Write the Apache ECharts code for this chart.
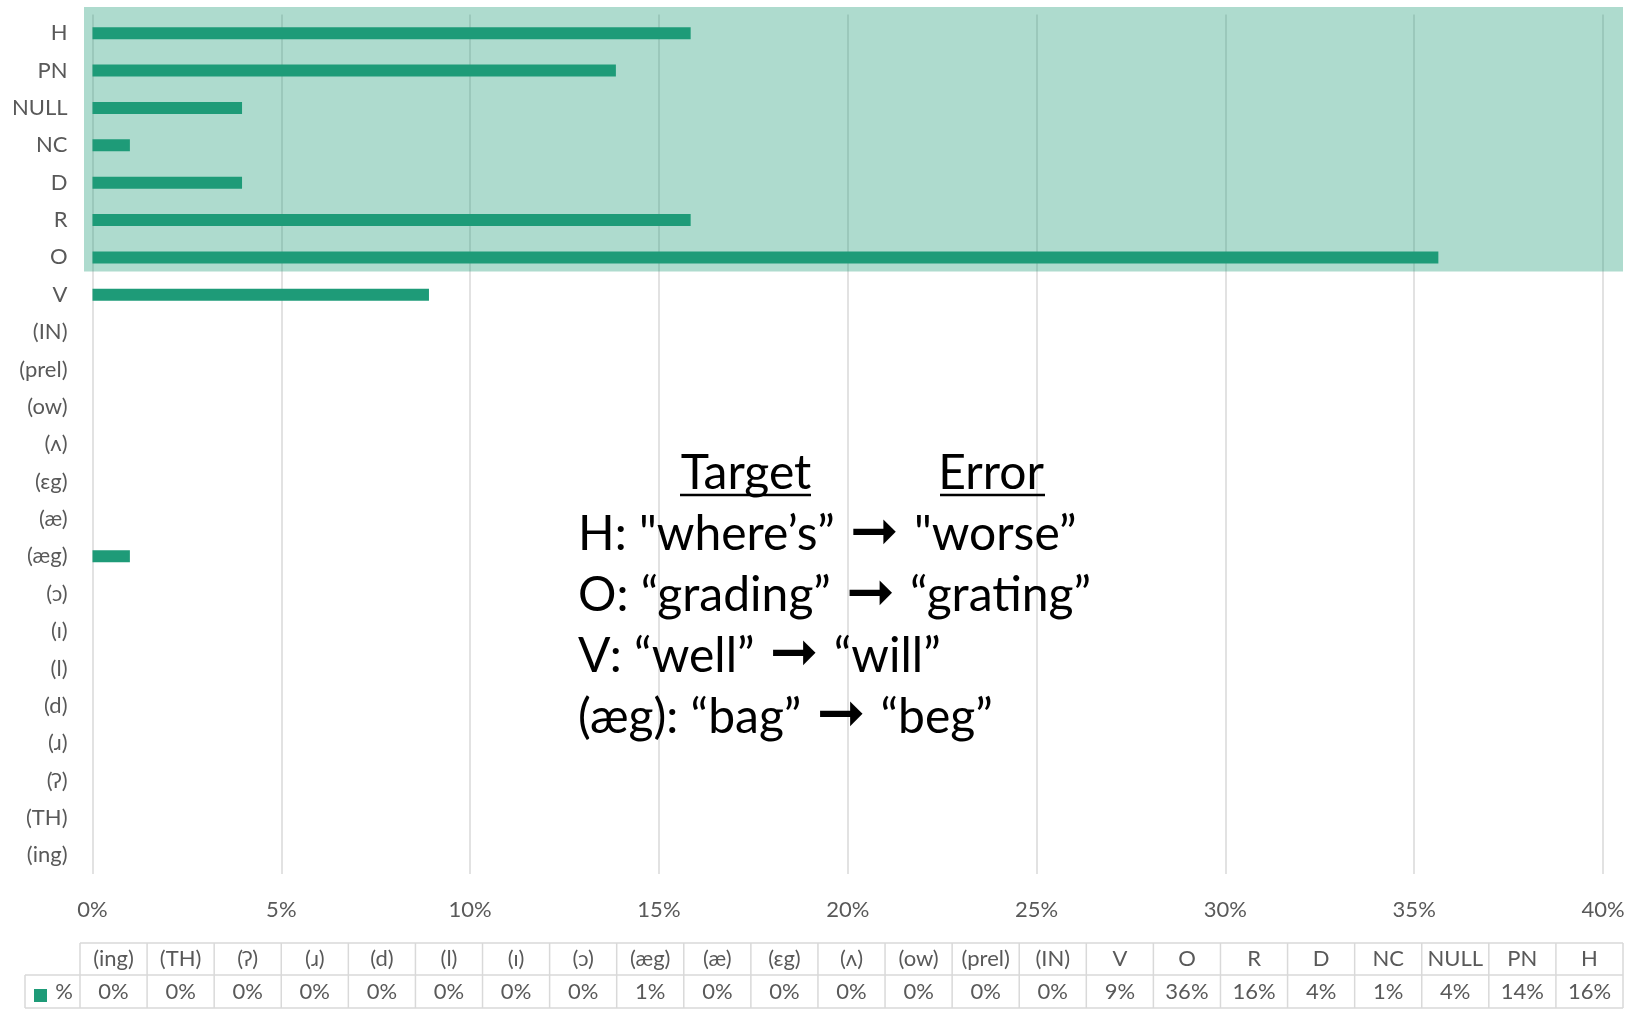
<!DOCTYPE html>
<html>
<head>
<meta charset="utf-8">
<script src="https://cdn.jsdelivr.net/npm/echarts@6/dist/echarts.min.js"></script>
<style>
  html, body { margin: 0; padding: 0; background: #ffffff; }
  #chart { width: 1629px; height: 1011px; }
</style>
</head>
<body>
<div id="chart"></div>
<script>
// Error categories, listed bottom to top as they appear on the axis
const categories = ['(ing)', '(TH)', '(ʔ)', '(ɹ)', '(d)', '(l)', '(ɪ)', '(ɔ)', '(æg)', '(æ)', '(ɛg)', '(ʌ)',
  '(ow)', '(prel)', '(IN)', 'V', 'O', 'R', 'D', 'NC', 'NULL', 'PN', 'H'];
// Share of errors per category
const shares = [0, 0, 0, 0, 0, 0, 0, 0, 0.0099, 0, 0, 0, 0, 0, 0, 0.0891, 0.3564, 0.1584, 0.0396, 0.0099, 0.0396, 0.1386, 0.1584];
const seriesName = '%';
// Value axis range
const axisMin = 0;
const axisMax = 0.40;
const axisStep = 0.05;
// Highlighted block of categories
const highlightFrom = 'O';
const highlightTo = 'H';
// Example note: target word and produced error
const noteHeads = ['Target', 'Error'];
const noteLabels = ['H', 'O', 'V', '(æg)'];
const noteTargets = ['"where’s”', '“grading”', '“well”', '“bag”'];
const noteErrors = ['"worse”', '“grating”', '“will”', '“beg”'];

const FONT = 'Lato, "DejaVu Sans", sans-serif';
const BAR = '#1e9b78';
const GREY = '#595959';
const LINE = '#d9d9d9';
const pct = v => Math.round(v * 100) + '%';

const chart = echarts.init(document.getElementById('chart'), null, { renderer: 'canvas' });

chart.setOption({
  animation: false,
  backgroundColor: '#ffffff',
  grid: { left: 92.5, right: 26, top: 14.5, bottom: 137, containLabel: false },
  xAxis: {
    type: 'value', min: axisMin, max: axisMax, interval: axisStep,
    axisLine: { show: false }, axisTick: { show: false },
    splitLine: { show: true, lineStyle: { color: LINE, width: 1.5 } },
    axisLabel: { color: GREY, fontFamily: FONT, fontSize: 22, margin: 25, formatter: pct }
  },
  yAxis: {
    type: 'category', data: categories,
    axisLine: { show: false }, axisTick: { show: false },
    axisLabel: { color: GREY, fontFamily: FONT, fontSize: 22, margin: 25 }
  },
  series: [{
    name: seriesName, type: 'bar', data: shares, barWidth: 12, z: 3,
    itemStyle: { color: BAR }
  }]
});

// Build overlays: highlight band, note text and the data table
function drawExtras() {
  const g = [];
  const x0 = chart.convertToPixel({ xAxisIndex: 0 }, axisMin);
  const x1 = chart.convertToPixel({ xAxisIndex: 0 }, axisMax);
  const yTop = chart.convertToPixel({ yAxisIndex: 0 }, highlightTo);
  const yBot = chart.convertToPixel({ yAxisIndex: 0 }, highlightFrom);
  const band = Math.abs(chart.convertToPixel({ yAxisIndex: 0 }, categories[0]) -
                        chart.convertToPixel({ yAxisIndex: 0 }, categories[1]));
  g.push({
    type: 'rect', z: 1, silent: true,
    shape: { x: x0 - 8.5, y: yTop - band * 0.70, width: (x1 + 20) - (x0 - 8.5), height: (yBot + band * 0.38) - (yTop - band * 0.70) },
    style: { fill: 'rgba(30,155,120,0.36)' }
  });

  // Note: column heads with underlines
  const headX = [746, 991];
  noteHeads.forEach((t, i) => {
    g.push({ type: 'text', z: 10, x: headX[i], y: 474,
      style: { text: t, fill: '#000', font: '48px ' + FONT, align: 'center', verticalAlign: 'middle' } });
  });
  const ulines = [[680, 811], [940, 1045]];
  ulines.forEach(u => g.push({ type: 'line', z: 10,
    shape: { x1: u[0], y1: 495, x2: u[1], y2: 495 }, style: { stroke: '#000', lineWidth: 2.5 } }));
  // Note lines: label, target, arrow, error
  noteLabels.forEach((lab, i) => {
    g.push({ type: 'text', z: 10, x: 578, y: 535 + i * 60.7,
      style: {
        text: lab + ': ' + noteTargets[i] + ' {a|➞} ' + noteErrors[i],
        fill: '#000', font: '48px ' + FONT, align: 'left', verticalAlign: 'middle',
        rich: { a: { fontFamily: '"DejaVu Sans", sans-serif', fontWeight: 'bold', fontSize: 58, fill: '#000', padding: [0, 3, 0, 3] } }
      } });
  });

  // Data table
  const tLeft = 80, tRight = 1623, legLeft = 25;
  const rTop = 943, rMid = 975, rBot = 1008;
  const colW = (tRight - tLeft) / categories.length;
  const lineStyle = { stroke: LINE, lineWidth: 1.5 };
  g.push({ type: 'line', z: 5, shape: { x1: tLeft, y1: rTop, x2: tRight, y2: rTop }, style: lineStyle });
  g.push({ type: 'line', z: 5, shape: { x1: legLeft, y1: rMid, x2: tRight, y2: rMid }, style: lineStyle });
  g.push({ type: 'line', z: 5, shape: { x1: legLeft, y1: rBot, x2: tRight, y2: rBot }, style: lineStyle });
  g.push({ type: 'line', z: 5, shape: { x1: legLeft, y1: rMid, x2: legLeft, y2: rBot }, style: lineStyle });
  for (let i = 0; i <= categories.length; i++) {
    const x = tLeft + i * colW;
    g.push({ type: 'line', z: 5, shape: { x1: x, y1: rTop, x2: x, y2: rBot }, style: lineStyle });
  }
  categories.forEach((c, i) => {
    const cx = tLeft + (i + 0.5) * colW;
    g.push({ type: 'text', z: 6, x: cx, y: (rTop + rMid) / 2,
      style: { text: c, fill: GREY, font: '22px ' + FONT, align: 'center', verticalAlign: 'middle' } });
    g.push({ type: 'text', z: 6, x: cx, y: (rMid + rBot) / 2,
      style: { text: pct(shares[i]), fill: GREY, font: '22px ' + FONT, align: 'center', verticalAlign: 'middle' } });
  });
  g.push({ type: 'rect', z: 6, shape: { x: 34, y: 989, width: 13, height: 13 }, style: { fill: BAR } });
  g.push({ type: 'text', z: 6, x: 64, y: (rMid + rBot) / 2,
    style: { text: seriesName, fill: GREY, font: '22px ' + FONT, align: 'center', verticalAlign: 'middle' } });

  chart.setOption({ graphic: { elements: g } });
}
drawExtras();
</script>
</body>
</html>
